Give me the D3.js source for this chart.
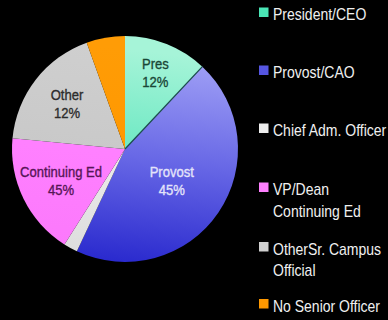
<!DOCTYPE html>
<html>
<head>
<meta charset="utf-8">
<script src="https://cdn.jsdelivr.net/npm/d3@7"></script>
<style>
  html, body { margin: 0; padding: 0; background: #000; }
  svg { display: block; }
</style>
</head>
<body>
<svg id="chart" width="388" height="320"></svg>
<script>
// Senior officer responsible for the unit
const categories = ["President/CEO", "Provost/CAO", "Chief Adm. Officer", "VP/Dean Continuing Ed", "OtherSr. Campus Official", "No Senior Officer"];
const shares = [12, 45, 2, 17.5, 18, 5.5];
const sliceNames = ["Pres", "Provost", "", "Continuing Ed", "Other", ""];
const sliceLabels = ["12%", "45%", "", "45%", "12%", ""];
const legendLines = [["President/CEO"], ["Provost/CAO"], ["Chief Adm. Officer"], ["VP/Dean", "Continuing Ed"], ["OtherSr. Campus", "Official"], ["No Senior Officer"]];

// three-stop vertical shading per slice (top, middle, bottom)
const fillStops = [
  ["#a6f4d8", "#6ae8c2", "#1ed3a0"],
  ["#a2a2f6", "#6868e6", "#2a2ace"],
  ["#f6f6f6", "#ececec", "#dcdcdc"],
  ["#ff86ff", "#ff80ff", "#fb78fb"],
  ["#cfcfcf", "#c9c9c9", "#c2c2c2"],
  ["#ff9c06", "#ff9800", "#f89000"]
];
const textColor = ["#1a4636", "#e4e4fa", "", "#561656", "#2c2c2c", ""];
const legendColor = ["#4ae6b6", "#5656e2", "#eeeeee", "#ff80ff", "#d0d0d0", "#ff9900"];

const svg = d3.select("#chart");
const cx = 125, cy = 149, r = 113;
const condense = 0.87;

// gradients live in the pie group's own (centred) coordinates
const defs = svg.append("defs");
categories.forEach((c, i) => {
  const g = defs.append("linearGradient")
    .attr("id", "grad" + i)
    .attr("gradientUnits", "userSpaceOnUse")
    .attr("x1", 20).attr("y1", -r + 15)
    .attr("x2", -5).attr("y2", r);
  fillStops[i].forEach((col, k) => {
    g.append("stop").attr("offset", (k * 50) + "%").attr("stop-color", col);
  });
});

const pie = d3.pie().sort(null).value(d => d);
const arcs = pie(shares);
const arc = d3.arc().innerRadius(0).outerRadius(r);

const gPie = svg.append("g").attr("transform", `translate(${cx},${cy})`);
gPie.selectAll("path.slice")
  .data(arcs)
  .join("path")
  .attr("class", "slice")
  .attr("d", arc)
  .attr("fill", (d, i) => `url(#grad${i})`);

// thin dark seam between Pres and Provost
gPie.append("line")
  .attr("x1", 0).attr("y1", 0)
  .attr("x2", r * Math.sin(arcs[0].endAngle))
  .attr("y2", -r * Math.cos(arcs[0].endAngle))
  .attr("stroke", "#1d4f50").attr("stroke-width", 1.3);

// label blocks along each slice's bisector
const labelRadius = [0.73, 0.5, 0, 0.63, 0.65, 0];
const labels = gPie.selectAll("g.lbl")
  .data(arcs.filter((d, i) => sliceNames[i] !== ""))
  .join("g")
  .attr("class", "lbl")
  .attr("transform", d => {
    const a = (d.startAngle + d.endAngle) / 2;
    const rr = r * labelRadius[d.index];
    return `translate(${rr * Math.sin(a)},${-rr * Math.cos(a)}) scale(${condense},1)`;
  })
  .attr("font-family", "Liberation Sans, Arial, sans-serif")
  .attr("font-size", 15)
  .attr("text-anchor", "middle")
  .attr("fill", d => textColor[d.index])
  .attr("stroke", d => textColor[d.index])
  .attr("stroke-width", 0.35);
labels.append("text").attr("y", -3.5).text(d => sliceNames[d.index]);
labels.append("text").attr("y", 14.5).text(d => sliceLabels[d.index]);

// legend
const legendBase = [20, 78, 136, 195, 254.5, 311.5];
const gLeg = svg.append("g")
  .attr("font-family", "Liberation Sans, Arial, sans-serif")
  .attr("font-size", 16)
  .attr("fill", "#f0f0f0");
categories.forEach((c, i) => {
  gLeg.append("rect")
    .attr("x", 259).attr("y", legendBase[i] - 12.5)
    .attr("width", 9.5).attr("height", 9.5)
    .attr("fill", legendColor[i]);
  legendLines[i].forEach((line, j) => {
    const t = gLeg.append("g")
      .attr("transform", `translate(273,${legendBase[i] + j * 21.5})`)
      .append("text").text(line);
    const w = t.node().getComputedTextLength();
    const s = Math.min(0.875, 113.5 / w);
    t.attr("transform", `scale(${s},1)`);
  });
});
</script>
</body>
</html>
